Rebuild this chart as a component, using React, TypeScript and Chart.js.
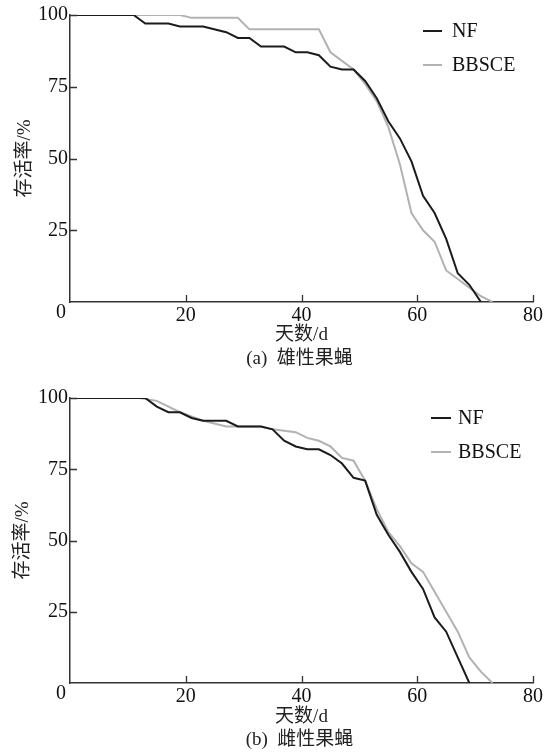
import React, { useEffect, useRef } from "react";
import { Chart, registerables } from "chart.js";
Chart.register(...registerables);

// ---- data ----
const xTickValues = [0, 20, 40, 60, 80];
const yTickValues = [0, 25, 50, 75, 100];
const seriesNames = ["NF", "BBSCE"];
const xTitle = "天数/d";
const yTitle = "存活率/%";
const captions = ["(a)  雄性果蝇", "(b)  雌性果蝇"];

const maleNFDays = [0, 11, 13, 17, 19, 23, 27, 29, 31, 33, 37, 39, 41, 43, 45, 47, 49, 51, 53, 55, 57, 59, 61, 63, 65, 67, 69, 71];
const maleNFValues = [100, 100, 97, 97, 96, 96, 94, 92, 92, 89, 89, 87, 87, 86, 82, 81, 81, 77, 71, 63, 57, 49, 37, 31, 22, 10, 6, 0];

const maleBBDays = [0, 19, 21, 29, 31, 43, 45, 47, 49, 51, 53, 55, 57, 59, 61, 63, 65, 67, 69, 71, 73];
const maleBBValues = [100, 100, 99, 99, 95, 95, 87, 84, 81, 76, 70, 61, 48, 31, 25, 21, 11, 8, 5, 2, 0];

const femaleNFDays = [0, 13, 15, 17, 19, 21, 23, 27, 29, 33, 35, 37, 39, 41, 43, 45, 47, 49, 51, 53, 55, 57, 59, 61, 63, 65, 67, 69];
const femaleNFValues = [100, 100, 97, 95, 95, 93, 92, 92, 90, 90, 89, 85, 83, 82, 82, 80, 77, 72, 71, 59, 52, 46, 39, 33, 23, 18, 9, 0];

const femaleBBDays = [0, 12, 15, 19, 23, 27, 29, 33, 35, 39, 41, 43, 45, 47, 49, 51, 53, 55, 57, 59, 61, 63, 65, 67, 69, 71, 73];
const femaleBBValues = [100, 100, 99, 95, 92, 90, 90, 90, 89, 88, 86, 85, 83, 79, 78, 71, 61, 53, 48, 42, 39, 32, 25, 18, 9, 4, 0];

// ---- styles ----
const NF_COLOR = "#1b1b1b";
const BB_COLOR = "#b2b2b2";
const AXIS_COLOR = "#333333";
const TEXT_COLOR = "#111111";
const SERIF = '"Liberation Serif", "Times New Roman", serif';
const MIXED = '"Liberation Serif", "Noto Sans CJK SC", serif';
const FONT_SIZE = 20;

const W = 553;
const H = 378;

type PanelProps = {
  nfDays: number[];
  nfValues: number[];
  bbDays: number[];
  bbValues: number[];
  caption: string;
  padTop: number;
  plotBottom: number;
  legend: { x0: number; x1: number; tx: number; y: number; gap: number };
  titleY: number;
  captionY: number;
  yTitleX: number;
};

function toPoints(xs: number[], ys: number[]) {
  return xs.map((x, i) => ({ x, y: ys[i] }));
}

function Panel(p: PanelProps) {
  const ref = useRef<HTMLCanvasElement | null>(null);
  useEffect(() => {
    if (!ref.current) return;
    const decor = {
      id: "decor",
      afterDraw(chart: any) {
        const { ctx, chartArea: a } = chart;
        const xs = chart.scales.x;
        const ys = chart.scales.y;
        ctx.save();
        ctx.strokeStyle = AXIS_COLOR;
        ctx.lineWidth = 1.3;
        ctx.beginPath();
        for (const v of xTickValues) {
          if (v === 0) continue;
          const px = Math.round(xs.getPixelForValue(v)) + 0.5;
          ctx.moveTo(px, a.bottom);
          ctx.lineTo(px, a.bottom - 7);
        }
        for (const v of yTickValues) {
          if (v === 0) continue;
          const py = Math.round(ys.getPixelForValue(v)) + 0.5;
          ctx.moveTo(a.left, py);
          ctx.lineTo(a.left + 7, py);
        }
        ctx.stroke();

        ctx.fillStyle = TEXT_COLOR;
        ctx.font = `${FONT_SIZE}px ${SERIF}`;
        ctx.textAlign = "center";
        ctx.textBaseline = "middle";
        ctx.fillText(String(xTickValues[0]), a.left - 9, a.bottom + 11);

        // legend
        const colors = [NF_COLOR, BB_COLOR];
        seriesNames.forEach((name, i) => {
          const y = p.legend.y + i * p.legend.gap;
          ctx.strokeStyle = colors[i];
          ctx.lineWidth = 2;
          ctx.beginPath();
          ctx.moveTo(p.legend.x0, y);
          ctx.lineTo(p.legend.x1, y);
          ctx.stroke();
          ctx.fillStyle = TEXT_COLOR;
          ctx.textAlign = "left";
          ctx.font = `${FONT_SIZE}px ${SERIF}`;
          ctx.fillText(name, p.legend.tx, y + 1);
        });

        // axis titles
        const cx = (a.left + a.right) / 2;
        ctx.textAlign = "center";
        ctx.fillStyle = "#222222";
        ctx.font = `${FONT_SIZE - 1}px ${MIXED}`;
        ctx.fillText(xTitle, cx, p.titleY);
        ctx.fillText(p.caption, cx - 2, p.captionY);

        ctx.save();
        ctx.translate(p.yTitleX, (a.top + a.bottom) / 2);
        ctx.rotate(-Math.PI / 2);
        ctx.fillText(yTitle, 0, 0);
        ctx.restore();
        ctx.restore();
      },
    };

    const chart = new Chart(ref.current, {
      type: "line",
      data: {
        datasets: [
          {
            label: seriesNames[0],
            data: toPoints(p.nfDays, p.nfValues),
            borderColor: NF_COLOR,
            borderWidth: 2,
            pointRadius: 0,
            tension: 0,
          },
          {
            label: seriesNames[1],
            data: toPoints(p.bbDays, p.bbValues),
            borderColor: BB_COLOR,
            borderWidth: 2,
            pointRadius: 0,
            tension: 0,
          },
        ],
      },
      options: {
        responsive: false,
        animation: false,
        devicePixelRatio: 1,
        layout: { padding: { top: p.padTop, right: 20, left: 0, bottom: 0 } },
        plugins: { legend: { display: false }, tooltip: { enabled: false } },
        scales: {
          x: {
            type: "linear",
            min: xTickValues[0],
            max: xTickValues[xTickValues.length - 1],
            afterBuildTicks: (s: any) => {
              s.ticks = xTickValues.map((v) => ({ value: v }));
            },
            afterFit: (s: any) => {
              s.height = H - p.plotBottom;
            },
            grid: { display: false, drawTicks: false },
            border: { display: true, color: AXIS_COLOR, width: 1.5 },
            ticks: {
              color: TEXT_COLOR,
              padding: 2,
              maxRotation: 0,
              font: { family: SERIF, size: FONT_SIZE },
              callback: (v: any) => (v === 0 ? "" : String(v)),
            },
          },
          y: {
            type: "linear",
            min: yTickValues[0],
            max: yTickValues[yTickValues.length - 1],
            afterBuildTicks: (s: any) => {
              s.ticks = yTickValues.map((v) => ({ value: v }));
            },
            afterFit: (s: any) => {
              s.width = 70;
            },
            grid: { display: false, drawTicks: false },
            border: { display: true, color: AXIS_COLOR, width: 1.5 },
            ticks: {
              color: TEXT_COLOR,
              padding: 2,
              font: { family: SERIF, size: FONT_SIZE },
              callback: (v: any) => (v === 0 ? "" : String(v)),
            },
          },
        },
      },
      plugins: [decor],
    } as any);
    return () => chart.destroy();
  }, []);
  return <canvas ref={ref} width={W} height={H} style={{ display: "block", width: W, height: H }} />;
}

export default function App() {
  return (
    <div style={{ position: "absolute", left: 0, top: 0, width: W, height: 756, background: "#fff" }}>
      <Panel
        nfDays={maleNFDays}
        nfValues={maleNFValues}
        bbDays={maleBBDays}
        bbValues={maleBBValues}
        caption={captions[0]}
        padTop={15}
        plotBottom={302}
        legend={{ x0: 423, x1: 442, tx: 452, y: 31, gap: 34 }}
        titleY={335}
        captionY={359}
        yTitleX={25}
      />
      <Panel
        nfDays={femaleNFDays}
        nfValues={femaleNFValues}
        bbDays={femaleBBDays}
        bbValues={femaleBBValues}
        caption={captions[1]}
        padTop={20}
        plotBottom={305}
        legend={{ x0: 431, x1: 451, tx: 458, y: 40, gap: 34 }}
        titleY={339}
        captionY={362}
        yTitleX={23}
      />
    </div>
  );
}
